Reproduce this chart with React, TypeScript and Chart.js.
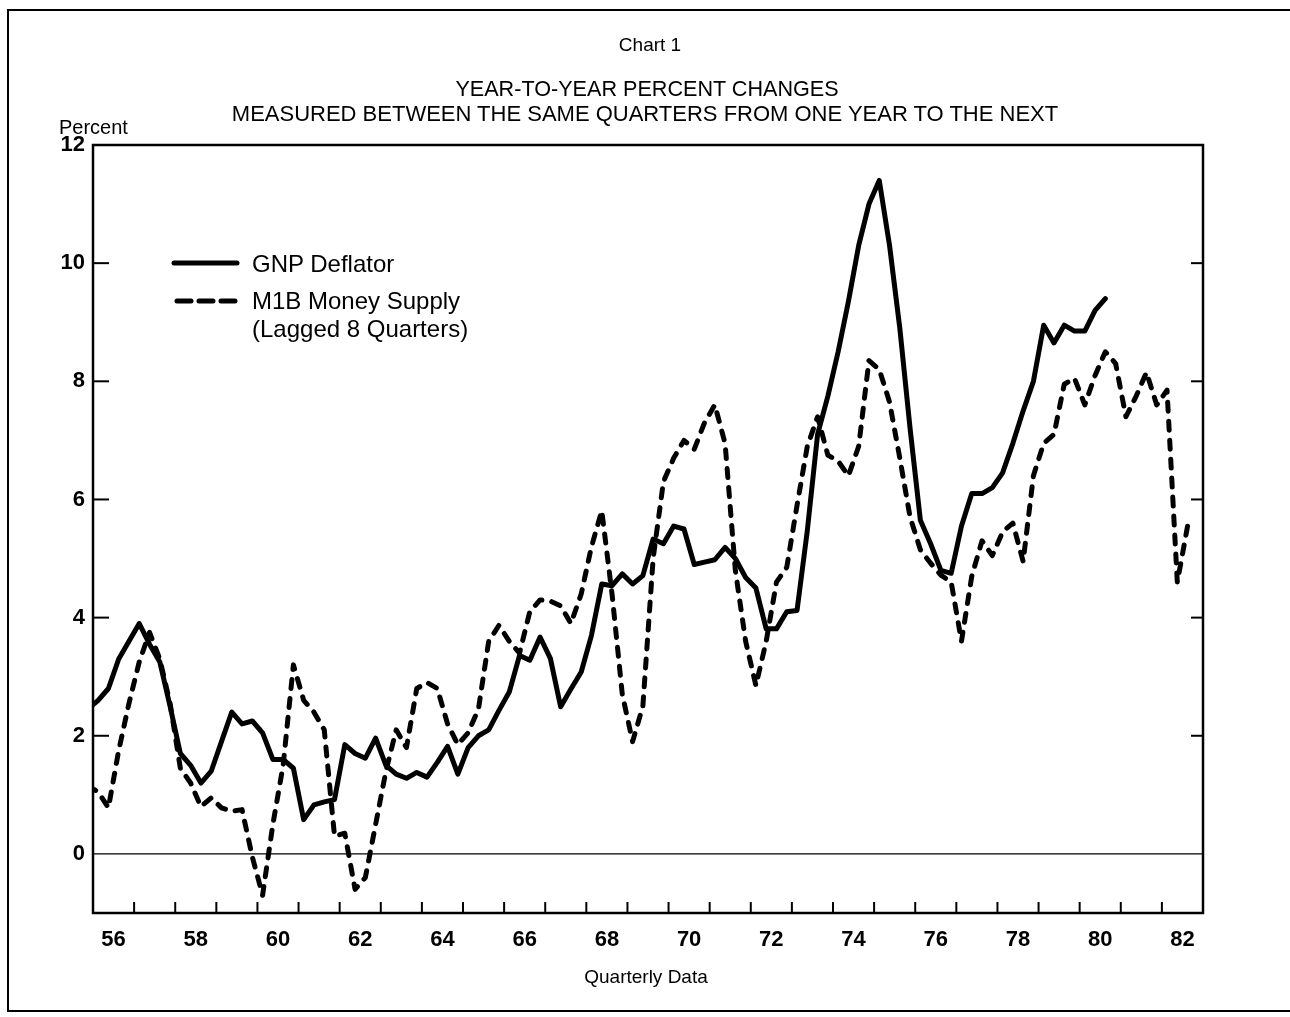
import React, { useEffect, useRef } from 'react';
import { Chart, registerables } from 'chart.js';

Chart.register(...registerables);

const W = 1290;
const H = 1017;
const FONT = '"Liberation Sans", Arial, Helvetica, sans-serif';

// Quarterly observations, plotted at mid-quarter. The first entry is 1955 Q4 (clipped at the axis).
const FIRST_QUARTER_YEAR = 1955;
const FIRST_QUARTER_NUM = 4;

// GNP Deflator, year-to-year percent change (1955Q4 .. 1980Q3)
const gnpDeflator = [
  2.45,
  2.6, 2.8, 3.3, 3.6,
  3.9, 3.55, 3.25, 2.5,
  1.7, 1.5, 1.2, 1.4,
  1.9, 2.4, 2.2, 2.25,
  2.05, 1.6, 1.6, 1.45,
  0.58, 0.83, 0.88, 0.92,
  1.85, 1.7, 1.62, 1.96,
  1.5, 1.35, 1.28, 1.38,
  1.3, 1.55, 1.82, 1.35,
  1.8, 2.0, 2.1, 2.43,
  2.74, 3.36, 3.28, 3.67,
  3.31, 2.49, 2.79, 3.08,
  3.7, 4.57, 4.54, 4.74,
  4.57, 4.71, 5.33, 5.25,
  5.55, 5.5, 4.9, 4.94,
  4.98, 5.19, 5.0, 4.68,
  4.5, 3.81, 3.81, 4.1,
  4.12, 5.47, 7.1, 7.75,
  8.5, 9.35, 10.3, 11.0,
  11.4, 10.3, 8.9, 7.2,
  5.65, 5.25, 4.8, 4.75,
  5.55, 6.1, 6.1, 6.2,
  6.45, 6.95, 7.5, 8.0,
  8.95, 8.65, 8.95, 8.85,
  8.85, 9.2, 9.4,
];

// M1B Money Supply, lagged 8 quarters (1955Q4 .. 1982Q3)
const m1bLagged = [
  1.15,
  1.05, 0.78, 1.75, 2.55,
  3.25, 3.75, 3.3, 2.55,
  1.45, 1.2, 0.8, 0.95,
  0.78, 0.72, 0.75, -0.05,
  -0.7, 0.5, 1.5, 3.2,
  2.6, 2.4, 2.1, 0.3,
  0.35, -0.6, -0.4, 0.5,
  1.4, 2.1, 1.8, 2.8,
  2.9, 2.8, 2.2, 1.85,
  2.05, 2.45, 3.6, 3.87,
  3.6, 3.4, 4.1, 4.3,
  4.28, 4.2, 3.9, 4.4,
  5.2, 5.81, 4.4, 2.7,
  1.9, 2.5, 5.0, 6.3,
  6.7, 7.0, 6.85, 7.3,
  7.6, 6.95, 4.8, 3.6,
  2.85, 3.6, 4.6, 4.85,
  5.9, 6.9, 7.4, 6.75,
  6.65, 6.4, 6.9, 8.35,
  8.2, 7.65, 6.7, 5.7,
  5.15, 4.92, 4.72, 4.6,
  3.6, 4.7, 5.3, 5.05,
  5.45, 5.6, 4.95, 6.4,
  6.95, 7.1, 7.95, 8.05,
  7.6, 8.1, 8.5, 8.3,
  7.4, 7.75, 8.15, 7.6,
  7.85, 4.6, 5.55,
];

const X_MIN = 1956;
const X_MAX = 1983;
const Y_MIN = -1;
const Y_MAX = 12;
const yTickLabels = [0, 2, 4, 6, 8, 10, 12];
const yTickMarks = [2, 4, 6, 8, 10];
const xLabelYears = [56, 58, 60, 62, 64, 66, 68, 70, 72, 74, 76, 78, 80, 82];
const xTickYears = [
  1957, 1958, 1959, 1960, 1961, 1962, 1963, 1964, 1965, 1966, 1967, 1968, 1969,
  1970, 1971, 1972, 1973, 1974, 1975, 1976, 1977, 1978, 1979, 1980, 1981, 1982,
];

function quarterPoints(values: number[]) {
  return values.map((v, i) => {
    const q = FIRST_QUARTER_NUM - 1 + i; // zero-based quarter counter from first year
    const year = FIRST_QUARTER_YEAR + Math.floor(q / 4);
    const qi = q % 4;
    return { x: year + (qi + 0.5) / 4, y: v };
  });
}

const framePlugin = {
  id: 'frame',
  beforeDatasetsDraw(chart: any) {
    const { ctx, chartArea: a, scales } = chart;
    const x = scales.x;
    const y = scales.y;
    ctx.save();
    ctx.strokeStyle = '#000';
    ctx.lineCap = 'butt';
    const seg = (x1: number, y1: number, x2: number, y2: number) => {
      ctx.beginPath();
      ctx.moveTo(x1, y1);
      ctx.lineTo(x2, y2);
      ctx.stroke();
    };
    // zero line
    ctx.lineWidth = 1.4;
    const y0 = y.getPixelForValue(0);
    seg(a.left, y0, a.right, y0);
    // frame
    ctx.lineWidth = 2.5;
    ctx.strokeRect(a.left, a.top, a.right - a.left, a.bottom - a.top);
    // y tick marks (inward, both sides)
    ctx.lineWidth = 2;
    yTickMarks.forEach((v) => {
      const py = y.getPixelForValue(v);
      seg(a.left, py, a.left + 16, py);
      seg(a.right - 12, py, a.right, py);
    });
    // x tick marks (inward)
    xTickYears.forEach((yr) => {
      const px = x.getPixelForValue(yr);
      seg(px, a.bottom, px, a.bottom - 11);
    });
    ctx.restore();
  },
};

export default function App() {
  const ref = useRef<HTMLCanvasElement>(null);

  useEffect(() => {
    if (!ref.current) return;
    const chart = new Chart(ref.current, {
      type: 'line',
      data: {
        datasets: [
          {
            label: 'GNP Deflator',
            data: quarterPoints(gnpDeflator),
            borderColor: '#000',
            backgroundColor: '#000',
            borderWidth: 5,
            pointRadius: 0,
            tension: 0,
            borderJoinStyle: 'round',
            borderCapStyle: 'round',
            clip: { left: 0, top: 10, right: 10, bottom: 10 },
          },
          {
            label: 'M1B Money Supply (Lagged 8 Quarters)',
            data: quarterPoints(m1bLagged),
            borderColor: '#000',
            backgroundColor: '#000',
            borderWidth: 5,
            borderDash: [9, 10],
            pointRadius: 0,
            tension: 0,
            borderJoinStyle: 'round',
            borderCapStyle: 'round',
            clip: { left: 0, top: 10, right: 10, bottom: 10 },
          },
        ],
      },
      options: {
        responsive: false,
        animation: false,
        events: [],
        layout: { padding: { left: 33, right: 87, top: 145, bottom: 44 } },
        plugins: {
          legend: { display: false },
          title: { display: false },
          tooltip: { enabled: false },
        },
        scales: {
          x: {
            type: 'linear',
            min: X_MIN,
            max: X_MAX,
            afterBuildTicks: (axis: any) => {
              axis.ticks = xLabelYears.map((v) => ({ value: 1900 + v + 0.5 }));
            },
            afterFit: (axis: any) => {
              axis.height = 60;
            },
            grid: { display: false, drawTicks: false },
            border: { display: false },
            ticks: {
              autoSkip: false,
              maxRotation: 0,
              padding: 14,
              color: '#000',
              font: { family: FONT, size: 22, weight: 'bold' },
              callback: (v: any) => String(Math.floor(Number(v)) % 100),
            },
          },
          y: {
            type: 'linear',
            min: Y_MIN,
            max: Y_MAX,
            afterBuildTicks: (axis: any) => {
              axis.ticks = yTickLabels.map((v) => ({ value: v }));
            },
            afterFit: (axis: any) => {
              axis.width = 60;
            },
            grid: { display: false, drawTicks: false },
            border: { display: false },
            ticks: {
              padding: 8,
              color: '#000',
              font: { family: FONT, size: 22, weight: 'bold' },
              callback: (v: any) => String(v),
            },
          },
        },
      },
      plugins: [framePlugin],
    } as any);
    return () => chart.destroy();
  }, []);

  const text = (
    content: string,
    cx: number,
    cy: number,
    size: number,
    extra: React.CSSProperties = {}
  ) => (
    <div
      style={{
        position: 'absolute',
        left: cx,
        top: cy,
        transform: 'translate(-50%, -50%)',
        whiteSpace: 'nowrap',
        fontSize: size,
        lineHeight: 1,
        color: '#000',
        ...extra,
      }}
    >
      {content}
    </div>
  );

  const leftText = (content: string, lx: number, cy: number, size: number) => (
    <div
      style={{
        position: 'absolute',
        left: lx,
        top: cy,
        transform: 'translateY(-50%)',
        whiteSpace: 'nowrap',
        fontSize: size,
        lineHeight: 1,
        color: '#000',
      }}
    >
      {content}
    </div>
  );

  return (
    <div
      style={{
        position: 'absolute',
        left: 0,
        top: 0,
        width: W,
        height: H,
        background: '#fff',
        fontFamily: FONT,
        overflow: 'hidden',
      }}
    >
      <div
        style={{
          position: 'absolute',
          left: 7,
          top: 9,
          width: 1290,
          height: 1003,
          border: '2px solid #000',
          boxSizing: 'border-box',
        }}
      />
      <canvas
        ref={ref}
        width={W}
        height={H}
        style={{ position: 'absolute', left: 0, top: 0, width: W, height: H }}
      />
      {text('Chart 1', 650, 44, 19)}
      {text('YEAR-TO-YEAR PERCENT CHANGES', 647, 89, 21.6)}
      {text('MEASURED BETWEEN THE SAME QUARTERS FROM ONE YEAR TO THE NEXT', 645, 114, 22)}
      {leftText('Percent', 59, 127, 20)}
      {text('Quarterly Data', 646, 976, 19)}

      <svg
        width={80}
        height={60}
        style={{ position: 'absolute', left: 165, top: 250 }}
      >
        <line x1={9} y1={13} x2={72} y2={13} stroke="#000" strokeWidth={5} strokeLinecap="round" />
        <line
          x1={12}
          y1={51}
          x2={72}
          y2={51}
          stroke="#000"
          strokeWidth={5}
          strokeLinecap="round"
          strokeDasharray="14 8"
        />
      </svg>
      {leftText('GNP Deflator', 252, 264, 24)}
      {leftText('M1B Money Supply', 252, 301, 24)}
      {leftText('(Lagged 8 Quarters)', 252, 329, 24)}
    </div>
  );
}
